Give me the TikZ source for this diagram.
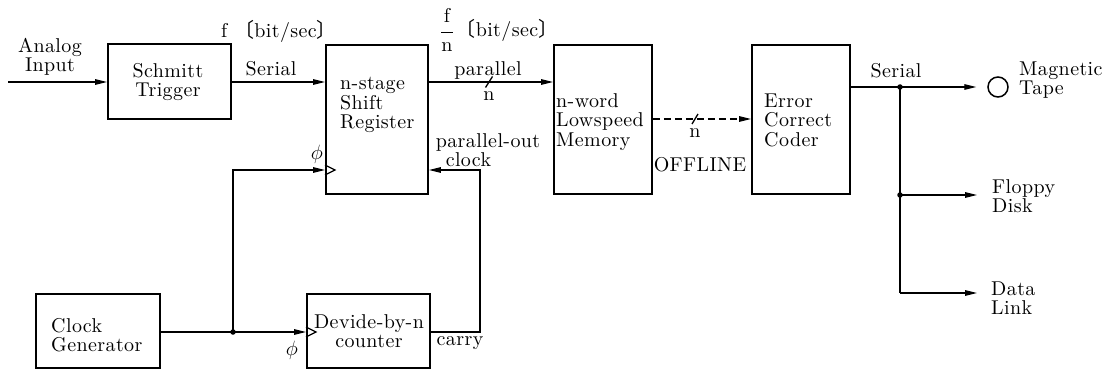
\documentclass[tikz,border=0pt]{standalone}
\usepackage{fontspec}
\setmainfont{lmroman10-regular.otf}[LetterSpace=2]
\newfontfamily\cjk{Noto Sans CJK JP}
\usetikzlibrary{arrows.meta}
\begin{document}
\begin{tikzpicture}[x=1pt,y=-1pt, font=\fontsize{20}{19.5}\selectfont,
  box/.style={draw, line width=1.8pt, inner sep=0pt, anchor=north west},
  wire/.style={line width=1.3pt},
  arr/.style={wire, -{Triangle[length=12pt,width=5.5pt]}},
  lbl/.style={inner sep=0pt, align=left},
  dot/.style={circle, fill, inner sep=0pt, minimum size=5.5pt}]
\useasboundingbox (0,0) rectangle (1106,369);
% boxes
\node[box, minimum width=123pt, minimum height=75pt] (st) at (107,43) {};
\node[box, minimum width=102pt, minimum height=149pt] (sr) at (325,44) {};
\node[box, minimum width=98pt, minimum height=149pt] (mem) at (553,44) {};
\node[box, minimum width=98pt, minimum height=149pt] (ecc) at (751,44) {};
\node[box, minimum width=124pt, minimum height=74pt] (clk) at (35,293) {};
\node[box, minimum width=123pt, minimum height=74pt] (cnt) at (306,293) {};
% box texts
\node[lbl, align=center] (stt) at (168,82) {Schmitt\\Trigger};
\node[lbl, anchor=west] (srt) at (340,105) {n-stage\\Shift\\Register};
\node[lbl, anchor=west] (memt) at (556,122) {n-word\\Lowspeed\\Memory};
\node[lbl, anchor=west] (ecct) at (764,120) {Error\\Correct\\Coder};
\node[lbl, anchor=west] (clkt) at (51,335) {Clock\\Generator};
\node[lbl, align=center] (cntt) at (369,331) {Devide-by-n\\counter};
% labels
\node[lbl, align=center] (ai) at (50,57) {Analog\\Input};
\node[lbl] (fbs) at (279,31) {f {\cjk 〔}bit/sec{\cjk 〕}};
\node[lbl] (ser1) at (271,69) {Serial};
\node[lbl] (fn) at (447,30) {$\displaystyle\frac{\mathrm{f}}{\mathrm{n}}$};
\node[lbl] (fnb) at (507,30) {{\cjk 〔}bit/sec{\cjk 〕}};
\node[lbl] (par) at (488,71) {parallel};
\node[lbl] (n1) at (489,96) {n};
\node[lbl] (phi1) at (317,154) {$\phi$};
\node[lbl] (poc) at (488,150) {parallel-out\\\hspace*{10pt}clock};
\node[lbl] (n2) at (695,133) {n};
\node[lbl] (offl) at (700,165) {OFFLINE};
\node[lbl] (ser2) at (896,71) {Serial};
\node[draw, circle, line width=1.5pt, minimum size=20pt, inner sep=0pt] (tape) at (998,87) {};
\node[lbl, anchor=west] (mtt) at (1019,80) {Magnetic\\Tape};
\node[lbl, anchor=west] (fdt) at (992,196) {Floppy\\Disk};
\node[lbl, anchor=west] (dlt) at (991,298) {Data\\Link};
\node[lbl] (phi2) at (292,350) {$\phi$};
\node[lbl] (car) at (460,343) {carry};
% main signal path
\coordinate (ain) at (8,82);
\draw[arr] (ain) -- (ain -| st.west);
\draw[arr] (ain -| st.east) -- (ain -| sr.west);
\draw[arr] (ain -| sr.east) -- (ain -| mem.west);
\coordinate (s1) at (489,82);
\draw[wire] (s1) ++(-3.5,5.5) -- ++(7,-11);
\coordinate (off) at (0,119);
\draw[arr, dash pattern=on 7pt off 4pt] (off -| mem.east) -- (off -| ecc.west);
\coordinate (s2) at (695,119);
\draw[wire] (s2) ++(-3,5) -- ++(6,-10);
% outputs
\coordinate (j1) at (900,87);
\coordinate (j2) at (900,195);
\coordinate (j3) at (900,293);
\coordinate (fd) at (977,195);
\coordinate (dl) at (977,293);
\draw[wire] (j1 -| ecc.east) -- (j1);
\draw[arr] (j1) -- ([xshift=-11pt]tape.west);
\draw[wire] (j1) -- (j3);
\draw[arr] (j2) -- (fd);
\draw[arr] (j3) -- (dl);
\node[dot] (d1) at (j1) {};
\node[dot] (d2) at (j2) {};
% clock
\coordinate (cj) at (233,332);
\coordinate (ck) at (480,170);
\draw[wire] (cj -| clk.east) -- (cj);
\draw[arr] (cj) -- (cj -| cnt.west);
\draw[arr] (cj) |- (ck -| sr.west);
\draw[arr] (cj -| cnt.east) -| (ck) -- (ck -| sr.east);
\draw[wire] (ck -| sr.west) ++(0,-5) -- ++(10,5) -- ++(-10,5);
\draw[wire] (cj -| cnt.west) ++(0,-5) -- ++(10,5) -- ++(-10,5);
\node[dot] (d3) at (cj) {};
\end{tikzpicture}
\end{document}
